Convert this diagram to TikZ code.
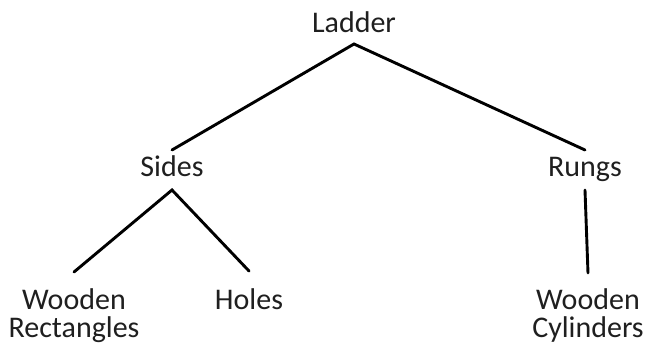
\documentclass[tikz,border=0pt]{standalone}
\usepackage{fontspec}
\setmainfont{Carlito}
\tikzset{
  part/.style={font=\fontsize{30}{28}\selectfont, text=black!88, align=center, inner sep=0pt},
  link/.style={line width=2.9pt, line cap=round}
}
\begin{document}
\begin{tikzpicture}[x=1pt,y=-1pt]
        \useasboundingbox (0,0) rectangle (649,350);
        % parts of the ladder
        \node[part, anchor=base] (ladder) at (354,33) {Ladder};
        \node[part, anchor=base] (sides) at (172,177) {Sides};
        \node[part, anchor=base] (rungs) at (585,177) {Rungs};
        \node[part, anchor=north] (rect) at (74,288) {Wooden\\Rectangles};
        \node[part, anchor=north] (holes) at (249,288) {Holes};
        \node[part, anchor=north] (cyl) at (588,288) {Wooden\\Cylinders};
        % connectors
        \draw[link] ([yshift=27pt]sides.base) -- ([yshift=-11pt]ladder.base) -- ([yshift=27pt]rungs.base);
        \draw[link] ([yshift=16pt]rect.north) -- ([yshift=-13pt]sides.base) -- ([yshift=17pt]holes.north);
        \draw[link] ([yshift=-13pt]rungs.base) -- ([yshift=15pt]cyl.north);
    \end{tikzpicture}
\end{document}
